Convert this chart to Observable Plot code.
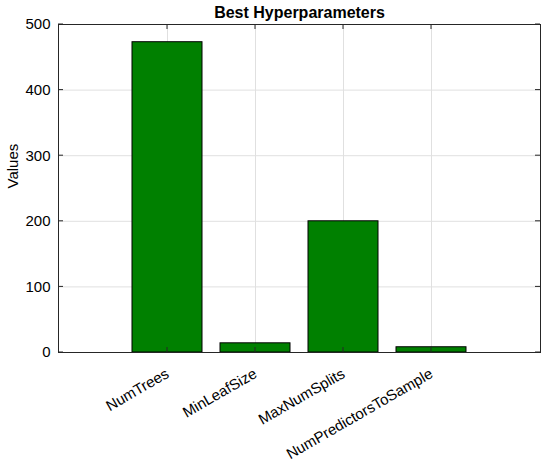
<!DOCTYPE html>
<html>
<head>
<meta charset="utf-8">
<script src="https://cdn.jsdelivr.net/npm/d3@7"></script>
<script src="https://cdn.jsdelivr.net/npm/@observablehq/plot@0.6"></script>
<style>
  body { margin: 0; background: #fff; }
  #chart { width: 550px; height: 461px; }
  svg { font-family: "Liberation Sans", Arial, sans-serif; }
</style>
</head>
<body>
<div id="chart"></div>
<script>
const categories = ["NumTrees", "MinLeafSize", "MaxNumSplits", "NumPredictorsToSample"];
const values = [473, 14, 200, 8];
const yTicks = [0, 100, 200, 300, 400, 500];
const title = "Best Hyperparameters";
const yLabel = "Values";

const data = categories.map((c, i) => ({name: c, value: values[i]}));

const axisColor = "#262626";
const gridColor = "#e0e0e0";

const chart = Plot.plot({
  width: 550,
  height: 461,
  marginLeft: 58,
  marginRight: 10,
  marginTop: 24,
  marginBottom: 109,
  style: {fontFamily: "'Liberation Sans', Arial, sans-serif", fontSize: "15px", color: axisColor, background: "#fff", overflow: "visible"},
  x: {domain: categories, paddingInner: 0.2, paddingOuter: 0.81, label: null},
  y: {domain: [0, 500], label: null},
  marks: [
    Plot.gridY(yTicks, {stroke: gridColor, strokeOpacity: 1}),
    Plot.gridX(categories, {stroke: gridColor, strokeOpacity: 1}),
    Plot.barY(data, {x: "name", y: "value", fill: "#008000", stroke: "#000", strokeWidth: 1}),
    Plot.frame({stroke: axisColor, strokeWidth: 1}),
    Plot.axisY({ticks: yTicks, tickSize: 0, tickPadding: 8, fontSize: 15, fill: "#000", label: null}),
    Plot.axisX({tickSize: 0, tickRotate: -30, tickPadding: 20, fontSize: 15, fill: "#000", label: null}),
    Plot.text([title], {frameAnchor: "top", lineAnchor: "middle", dy: -12, fontWeight: "bold", fontSize: 16, fill: "#000"}),
    Plot.text([yLabel], {frameAnchor: "left", dx: -45, rotate: -90, fontSize: 15, fill: "#000"})
  ]
});

// inward MATLAB-style ticks drawn via scales
const xs = chart.scale("x"), ys = chart.scale("y");
const svg = d3.select(chart);
const L = 58, R = 540, T = 24, B = 352;
const g = svg.append("g").attr("stroke", axisColor).attr("stroke-width", 1);
categories.forEach(c => {
  const x = xs.apply(c) + xs.bandwidth / 2;
  g.append("line").attr("x1", x).attr("x2", x).attr("y1", B).attr("y2", B - 5);
  g.append("line").attr("x1", x).attr("x2", x).attr("y1", T).attr("y2", T + 5);
});
yTicks.forEach(v => {
  const y = ys.apply(v);
  g.append("line").attr("x1", L).attr("x2", L + 5).attr("y1", y).attr("y2", y);
  g.append("line").attr("x1", R).attr("x2", R - 5).attr("y1", y).attr("y2", y);
});
document.getElementById("chart").appendChild(chart);
</script>
</body>
</html>
